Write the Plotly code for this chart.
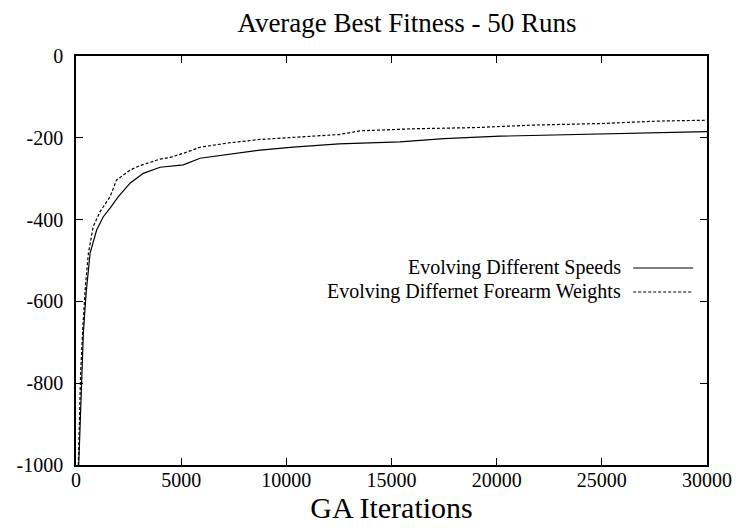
import plotly.graph_objects as go

# ---- data ----
speeds_x = [130, 270, 350, 480, 670, 985, 1300, 1620, 2015, 2570, 3200, 4000, 5100, 5900,
            7330, 8760, 10320, 12500, 15400, 17500, 20160, 22500, 25700, 28000, 30000]
speeds_y = [-1000, -775, -677, -580, -482, -425, -393, -372, -344, -311, -287, -272, -266, -250,
            -240, -230, -223, -215, -210, -202, -196, -193, -189, -187, -185]

weights_x = [110, 220, 330, 450, 590, 820, 1140, 1620, 1930, 2570, 3040, 4000, 4470, 5100,
             5900, 7170, 8750, 10500, 12500, 13500, 16000, 19000, 21700, 25000, 27770, 30000]
weights_y = [-1000, -775, -660, -560, -482, -417, -381, -344, -303, -279, -268, -252, -248, -238,
             -223, -213, -204, -199, -192, -183, -178, -175, -169, -165, -159, -157]

series_names = ["Evolving Different Speeds", "Evolving Differnet Forearm Weights"]
x_ticks = [0, 5000, 10000, 15000, 20000, 25000, 30000]
y_ticks = [0, -200, -400, -600, -800, -1000]

FONT = "Liberation Serif"

fig = go.Figure()
fig.add_trace(go.Scatter(x=speeds_x, y=speeds_y, mode="lines", name=series_names[0],
                         line=dict(color="black", width=1.2), showlegend=False))
fig.add_trace(go.Scatter(x=weights_x, y=weights_y, mode="lines", name=series_names[1],
                         line=dict(color="black", width=1.2, dash="3px,2px"), showlegend=False))

# legend drawn gnuplot-style: text right-aligned, sample line at its right
legend_rows = [(0.4817, "solid"), (0.423, "3px,2px")]
for name, (yp, dash) in zip(series_names, legend_rows):
    fig.add_annotation(x=0.865, y=yp, xref="paper", yref="paper", text=name,
                       showarrow=False, xanchor="right", yanchor="middle", borderpad=0,
                       font=dict(family=FONT, size=20, color="black"))
    fig.add_shape(type="line", xref="paper", yref="paper", x0=0.883, x1=0.978, y0=yp, y1=yp,
                  line=dict(color="black", width=1.2, dash=dash))

axis_common = dict(showline=True, linecolor="black", linewidth=1.5, mirror="ticks",
                   ticks="inside", ticklen=7, tickcolor="black", tickwidth=1,
                   showgrid=False, zeroline=False, automargin=False,
                   tickfont=dict(family=FONT, size=20, color="black"))

fig.update_xaxes(range=[0, 30000], tickvals=x_ticks, ticktext=[str(v) for v in x_ticks],
                 ticklabelstandoff=-4,
                 title=dict(text="GA Iterations", font=dict(family=FONT, size=30, color="black"),
                            standoff=0),
                 **axis_common)
fig.update_yaxes(range=[-1000, 0], tickvals=y_ticks, ticktext=[str(v) for v in y_ticks],
                 ticklabelstandoff=7, **axis_common)

fig.update_layout(
    width=739, height=531,
    margin=dict(l=76, r=32, t=56, b=66),
    paper_bgcolor="white", plot_bgcolor="white",
    title=dict(text="Average Best Fitness - 50 Runs", x=407 / 739, xref="container",
               xanchor="center", y=1 - 23 / 531, yanchor="middle", yref="container",
               font=dict(family=FONT, size=27, color="black")),
)

fig.write_html("out.html")
